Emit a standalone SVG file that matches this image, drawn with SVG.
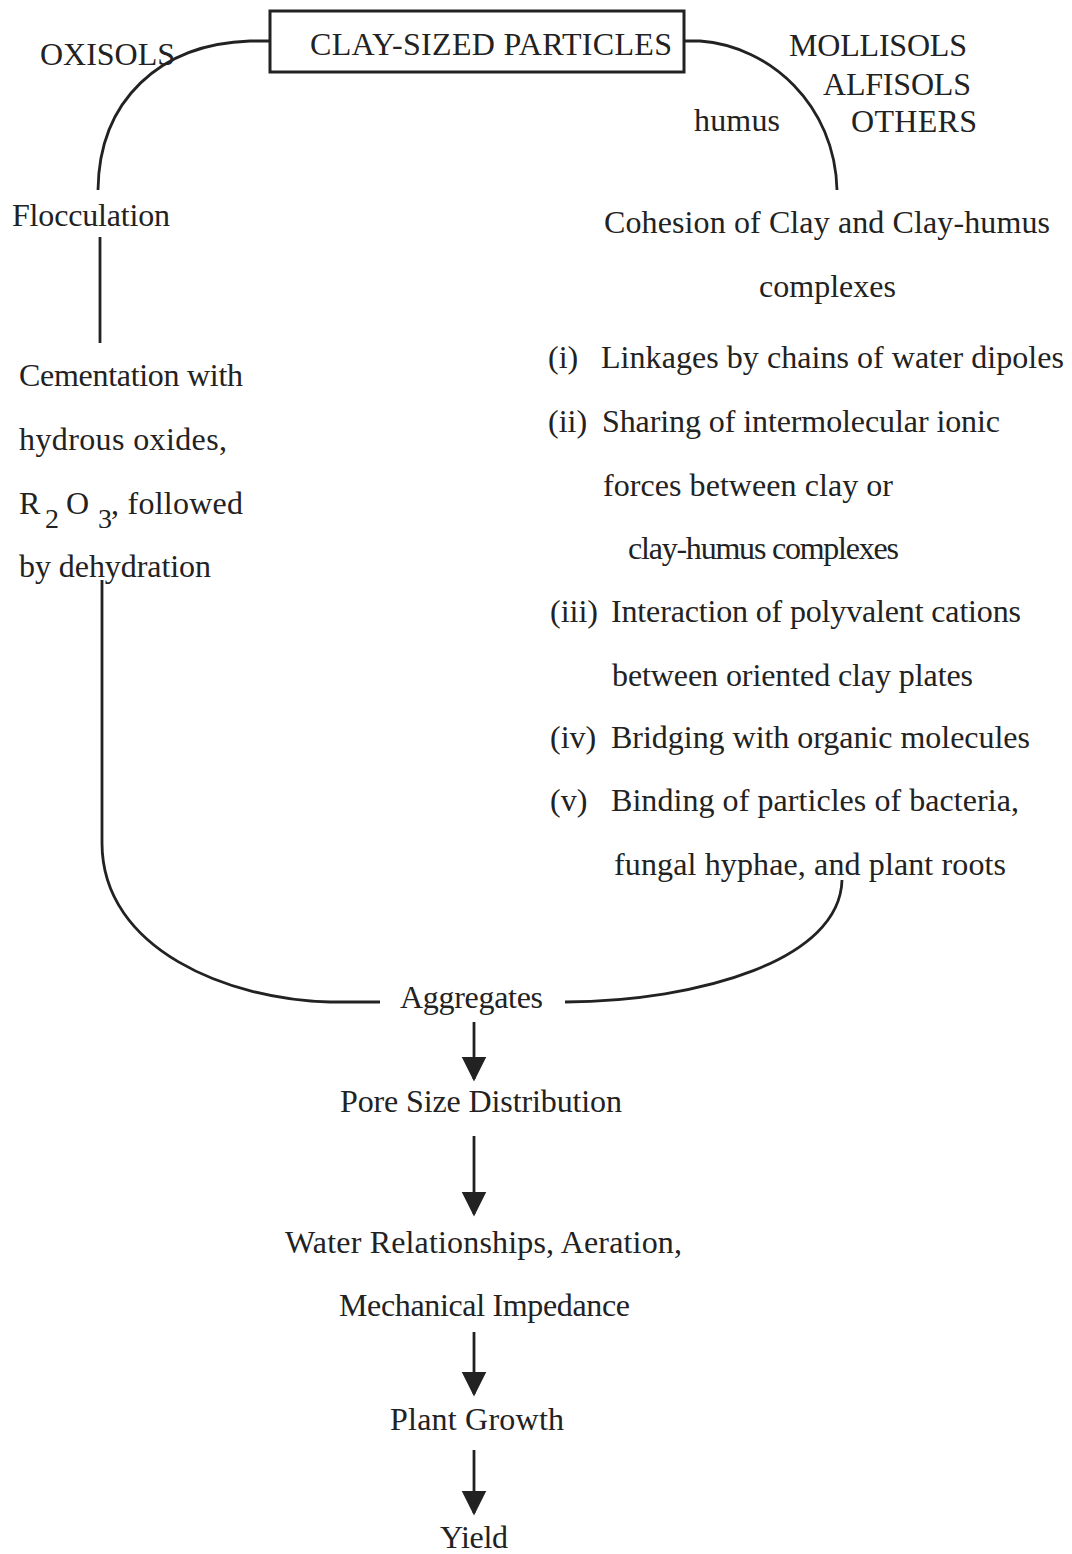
<svg xmlns="http://www.w3.org/2000/svg" width="1072" height="1554" viewBox="0 0 1072 1554">
<defs>
<style>
text{font-family:"Liberation Serif","Times New Roman",serif;font-size:32px;fill:#222;}
.sub{font-size:28px;}
.ln{fill:none;stroke:#222;stroke-width:2.8;}
.ar{fill:none;stroke:#222;stroke-width:2.8;marker-end:url(#ah);}
.box{fill:#fff;stroke:#222;stroke-width:3;}
</style>
<marker id="ah" viewBox="0 0 10 10" refX="9" refY="5" markerUnits="userSpaceOnUse" markerWidth="25" markerHeight="27" orient="auto">
<path d="M0,0 L10,5 L0,10 Z" fill="#222"/>
</marker>
</defs>
<rect width="1072" height="1554" fill="#fff"/>

<g id="connectors">
<path class="ln" d="M270,41 L250,41 C160,44 99,100 98,190"/>
<path class="ln" d="M100,237 L100,343"/>
<path class="ln" d="M684,41 L700,41 C770,46 835,105 837,190"/>
<path class="ln" d="M102,580 L102,843 C102,950 230,1000 330,1002 L380,1002"/>
<path class="ln" d="M842,880 C840,960 700,1001 565,1002"/>
<path class="ar" d="M474,1022 L474,1079"/>
<path class="ar" d="M474,1136 L474,1214"/>
<path class="ar" d="M474,1332 L474,1394"/>
<path class="ar" d="M474,1450 L474,1513"/>
</g>

<g id="clay-sized-particles">
<rect class="box" x="270" y="11" width="414" height="61"/>
<text x="310" y="55" textLength="362">CLAY-SIZED PARTICLES</text>
</g>
<g id="oxisols"><text x="40" y="65" textLength="135">OXISOLS</text></g>
<g id="mollisols-alfisols-others">
<text x="789" y="56" textLength="178">MOLLISOLS</text>
<text x="823" y="95" textLength="148">ALFISOLS</text>
<text x="851" y="132" textLength="126">OTHERS</text>
</g>
<g id="humus"><text x="694" y="131" textLength="86">humus</text></g>
<g id="flocculation"><text x="12" y="226" textLength="158">Flocculation</text></g>
<g id="cementation">
<text x="19" y="386" textLength="224">Cementation with</text>
<text x="19" y="450" textLength="208">hydrous oxides,</text>
<text x="19" y="514">R</text>
<text class="sub" x="45" y="528">2</text>
<text x="66" y="514">O</text>
<text class="sub" x="98" y="528">3</text>
<text x="111" y="514" textLength="132">, followed</text>
<text x="19" y="577" textLength="192">by dehydration</text>
</g>
<g id="cohesion">
<text x="604" y="233" textLength="446">Cohesion of Clay and Clay-humus</text>
<text x="759" y="297" textLength="137">complexes</text>
<text x="548" y="368">(i)</text>
<text x="601" y="368" textLength="463">Linkages by chains of water dipoles</text>
<text x="548" y="432">(ii)</text>
<text x="602" y="432" textLength="398">Sharing of intermolecular ionic</text>
<text x="603" y="496" textLength="290">forces between clay or</text>
<text x="628" y="559" textLength="271">clay-humus complexes</text>
<text x="550" y="622">(iii)</text>
<text x="611" y="622" textLength="410">Interaction of polyvalent cations</text>
<text x="612" y="686" textLength="361">between oriented clay plates</text>
<text x="550" y="748">(iv)</text>
<text x="611" y="748" textLength="419">Bridging with organic molecules</text>
<text x="550" y="811">(v)</text>
<text x="611" y="811" textLength="408">Binding of particles of bacteria,</text>
<text x="614" y="875" textLength="392">fungal hyphae, and plant roots</text>
</g>
<g id="aggregates"><text x="400" y="1008" textLength="143">Aggregates</text></g>
<g id="pore-size"><text x="340" y="1112" textLength="282">Pore Size Distribution</text></g>
<g id="water-relationships">
<text x="285" y="1253" textLength="397">Water Relationships, Aeration,</text>
<text x="339" y="1316" textLength="291">Mechanical Impedance</text>
</g>
<g id="plant-growth"><text x="390" y="1430" textLength="174">Plant Growth</text></g>
<g id="yield"><text x="440" y="1548" textLength="68">Yield</text></g>
</svg>
